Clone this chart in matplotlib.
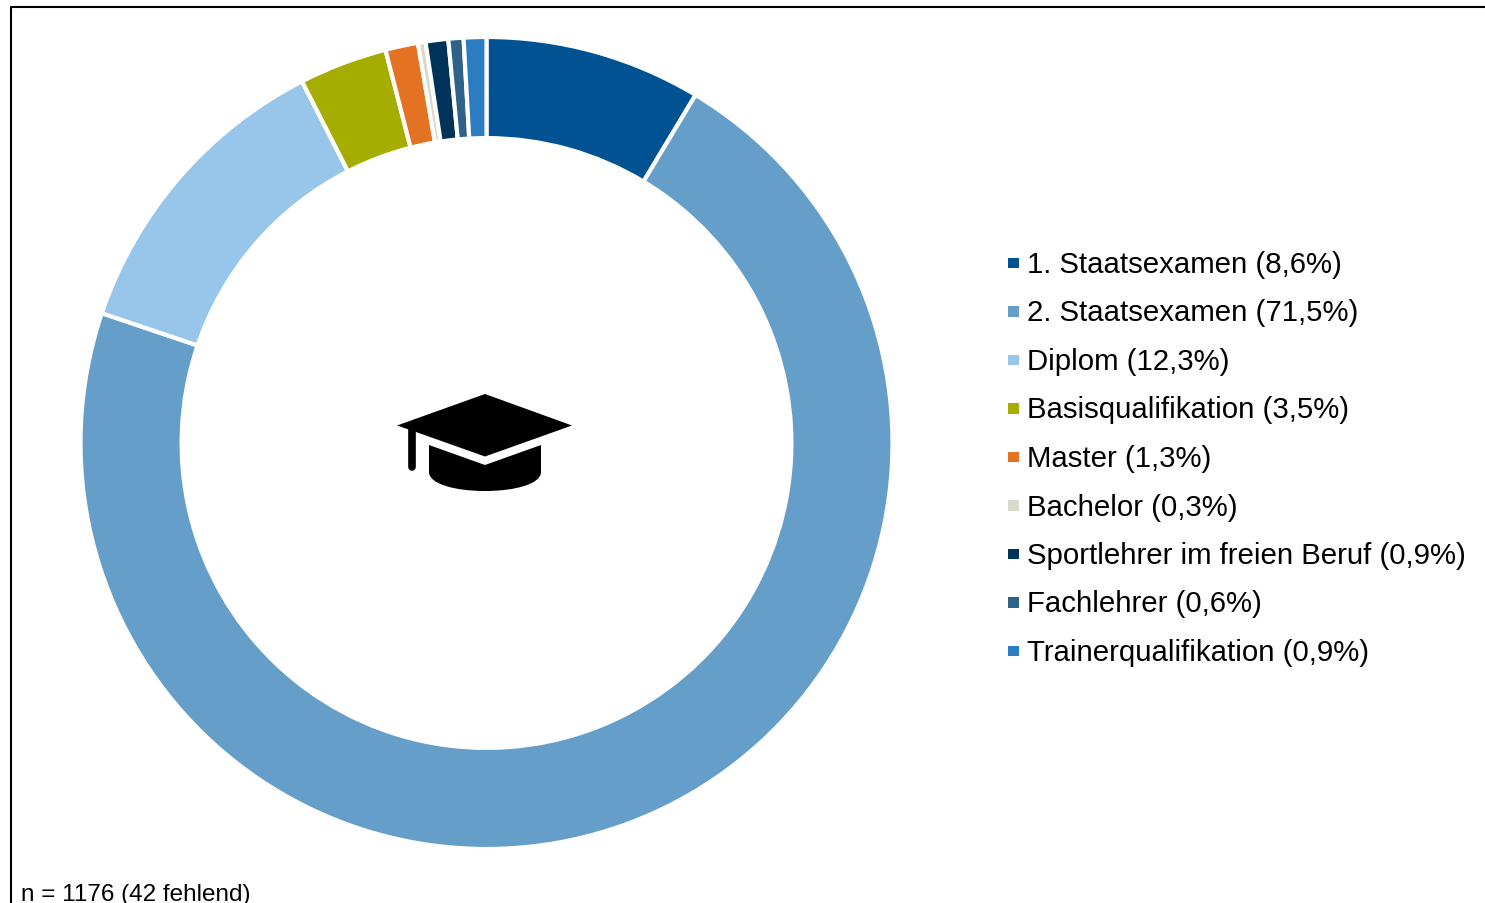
import matplotlib
matplotlib.use("Agg")
import matplotlib.pyplot as plt
from matplotlib.path import Path
from matplotlib.patches import PathPatch, Rectangle, Polygon
from matplotlib.lines import Line2D

labels = ["1. Staatsexamen (8,6%)", "2. Staatsexamen (71,5%)", "Diplom (12,3%)",
          "Basisqualifikation (3,5%)", "Master (1,3%)", "Bachelor (0,3%)",
          "Sportlehrer im freien Beruf (0,9%)", "Fachlehrer (0,6%)", "Trainerqualifikation (0,9%)"]
values = [8.6, 71.5, 12.3, 3.5, 1.3, 0.3, 0.9, 0.6, 0.9]
colors = ["#005293", "#659FC9", "#98C5EA", "#A5AD00", "#E37222", "#DAD7CB",
          "#003359", "#2F6289", "#2B7CC0"]
note = "n = 1176 (42 fehlend)"

W, H = 1485, 904
plt.rcParams["font.family"] = ["Liberation Sans", "DejaVu Sans"]
fig = plt.figure(figsize=(W / 100, H / 100), dpi=100, facecolor="white")

# Pixel-coordinate overlay
ov = fig.add_axes([0, 0, 1, 1], zorder=3)
ov.set_xlim(0, W); ov.set_ylim(H, 0); ov.axis("off"); ov.patch.set_alpha(0)

# Donut
cx, cy, R = 486.5, 444, 406
ax = fig.add_axes([(cx - R) / W, 1 - (cy + R) / H, 2 * R / W, 2 * R / H], zorder=2)
ax.pie(values, colors=colors, startangle=90, counterclock=False, radius=1,
       wedgeprops=dict(width=0.249, edgecolor="white", linewidth=3))
ax.set_xlim(-1, 1); ax.set_ylim(-1, 1); ax.set_aspect("equal")

# Frame (top and left edges are visible)
ov.add_line(Line2D([11, 11, W], [H, 7.5, 7.5], color="black", lw=1.5))

# Legend
y0, dy = 263, 48.5
for i, (lab, col) in enumerate(zip(labels, colors)):
    y = y0 + i * dy
    ov.add_patch(Rectangle((1008, y - 4.5), 10.5, 10.5, facecolor=col, edgecolor="none"))
    ov.text(1027, y - 1, lab, fontsize=21.2, va="center_baseline", ha="left", color="black")

ov.text(21, 893, note, fontsize=17.5, va="center_baseline", ha="left", color="black")

# Graduation cap icon
ov.add_patch(Polygon([(397, 426.5), (485, 395), (572, 426.5), (485, 457.5), (416, 433)],
                     closed=True, facecolor="black", edgecolor="none"))
ov.add_line(Line2D([412, 412], [429, 468], color="black", lw=5.5, solid_capstyle="round"))
base = Path([(429, 446), (485, 466), (541, 446), (541, 473),
             (541, 485), (515, 492), (485, 492), (455, 492), (429, 485), (429, 473), (429, 446)],
            [Path.MOVETO, Path.LINETO, Path.LINETO, Path.LINETO,
             Path.CURVE4, Path.CURVE4, Path.CURVE4, Path.CURVE4, Path.CURVE4, Path.CURVE4, Path.CLOSEPOLY])
ov.add_patch(PathPatch(base, facecolor="black", edgecolor="none"))

fig.savefig("out.png", dpi=100, facecolor="white")
